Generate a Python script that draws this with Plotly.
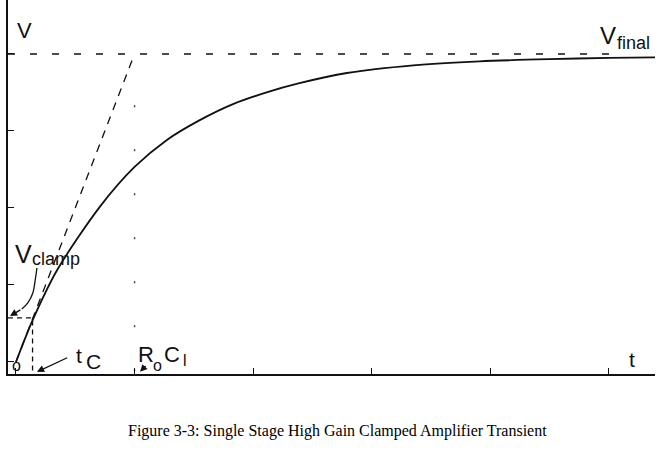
import plotly.graph_objects as go

# ---- data (time in units of R0*Cl, voltage normalised to Vfinal) ----
curve_t = [0.0, 0.14, 0.35, 0.71, 1.00, 1.27, 1.55, 1.83, 2.12, 2.39, 2.79, 3.35, 3.91, 4.50, 5.00, 5.39]
curve_v = [0.0, 0.135, 0.30, 0.505, 0.633, 0.72, 0.785, 0.837, 0.876, 0.905, 0.938, 0.963, 0.976, 0.983, 0.987, 0.989]

tangent_t = [0.0, 1.0]
tangent_v = [0.0, 1.0]

vfinal_t = [-0.067, 5.0]
vfinal_v = [1.0, 1.0]

t_clamp = 0.14
v_clamp = 0.143

rc_t = [1.0, 1.0]
rc_v = [-0.03, 0.88]

vclamp_arrow_t = [0.177, 0.162, 0.143, 0.10, 0.05]
vclamp_arrow_v = [0.305, 0.265, 0.225, 0.192, 0.172]

x_ticks = [0, 1, 2, 3, 4, 5]
y_ticks = [0, 0.25, 0.5, 0.75, 1.0]

X_RANGE = [-0.067, 5.388]
Y_RANGE = [-0.039, 1.175]

caption = "Figure 3-3: Single Stage High Gain Clamped Amplifier Transient"

INK = "#111111"
SANS = "Liberation Sans, Arial, sans-serif"
SERIF = "Liberation Serif, DejaVu Serif, serif"

fig = go.Figure()

# main response curve
fig.add_trace(go.Scatter(x=curve_t, y=curve_v, mode="lines",
                         line=dict(color=INK, width=1.8, shape="spline", smoothing=0.8),
                         hoverinfo="skip"))
# tangent at origin
fig.add_trace(go.Scatter(x=tangent_t, y=tangent_v, mode="lines",
                         line=dict(color=INK, width=1.3, dash="8px,7px"), hoverinfo="skip"))
# Vfinal asymptote
fig.add_trace(go.Scatter(x=vfinal_t, y=vfinal_v, mode="lines",
                         line=dict(color=INK, width=1.5, dash="7px,15px"), hoverinfo="skip"))
# clamp guide lines
fig.add_trace(go.Scatter(x=[X_RANGE[0], t_clamp, t_clamp], y=[v_clamp, v_clamp, Y_RANGE[0]],
                         mode="lines", line=dict(color=INK, width=1.3, dash="5px,4px"),
                         hoverinfo="skip"))
# dotted marker at t = R0*Cl
fig.add_trace(go.Scatter(x=rc_t, y=rc_v, mode="lines",
                         line=dict(color="#444444", width=1.5, dash="2px,42px"), hoverinfo="skip"))
# curved arrow from Vclamp label
fig.add_trace(go.Scatter(x=vclamp_arrow_t, y=vclamp_arrow_v, mode="lines",
                         line=dict(color=INK, width=1.3, shape="spline"), hoverinfo="skip"))

def label(text, x, y, size, xanchor="center", yanchor="middle"):
    fig.add_annotation(x=x, y=y, xref="x", yref="y", text=text, showarrow=False,
                       xanchor=xanchor, yanchor=yanchor,
                       font=dict(family=SANS, size=size, color=INK))

label("V", 0.076, 1.075, 22)
label("V", 4.99, 1.060, 24)
label("final", 5.21, 1.037, 18)
label("V", 0.067, 0.350, 25)
label("clamp", 0.338, 0.333, 18)
label("t", 0.53, 0.020, 21)
label("C", 0.65, 0.003, 21)
label("R", 1.10, 0.025, 22)
label("o", 1.195, -0.012, 16)
label("C", 1.315, 0.025, 22)
label("l", 1.425, 0.005, 16)
label("t", 5.19, 0.008, 21)
label("o", 0.008, -0.012, 16)

def arrow(x, y, ax, ay):
    fig.add_annotation(x=x, y=y, ax=ax, ay=ay, xref="x", yref="y", axref="x", ayref="y",
                       text="", showarrow=True, arrowhead=2, arrowsize=1.1,
                       arrowwidth=1.3, arrowcolor=INK)

arrow(-0.05, 0.149, vclamp_arrow_t[-1], vclamp_arrow_v[-1])
arrow(0.177, -0.032, 0.445, 0.016)
arrow(1.046, -0.032, 1.105, -0.008)

fig.add_annotation(x=0.51, y=-0.152, xref="paper", yref="paper", text=caption,
                   showarrow=False, xanchor="center", yanchor="middle",
                   font=dict(family=SERIF, size=16, color="#000000"))

axis_common = dict(showgrid=False, zeroline=False, showline=True, linecolor=INK,
                   linewidth=1.5, ticks="inside", ticklen=6, tickwidth=1.3,
                   tickcolor=INK, showticklabels=False, fixedrange=True)

fig.update_xaxes(range=X_RANGE, tickvals=x_ticks, **axis_common)
fig.update_yaxes(range=Y_RANGE, tickvals=y_ticks, **axis_common)

fig.update_layout(width=669, height=463, showlegend=False,
                  margin=dict(l=8, r=14, t=0, b=89),
                  paper_bgcolor="white", plot_bgcolor="white")

fig.write_html("out.html")
